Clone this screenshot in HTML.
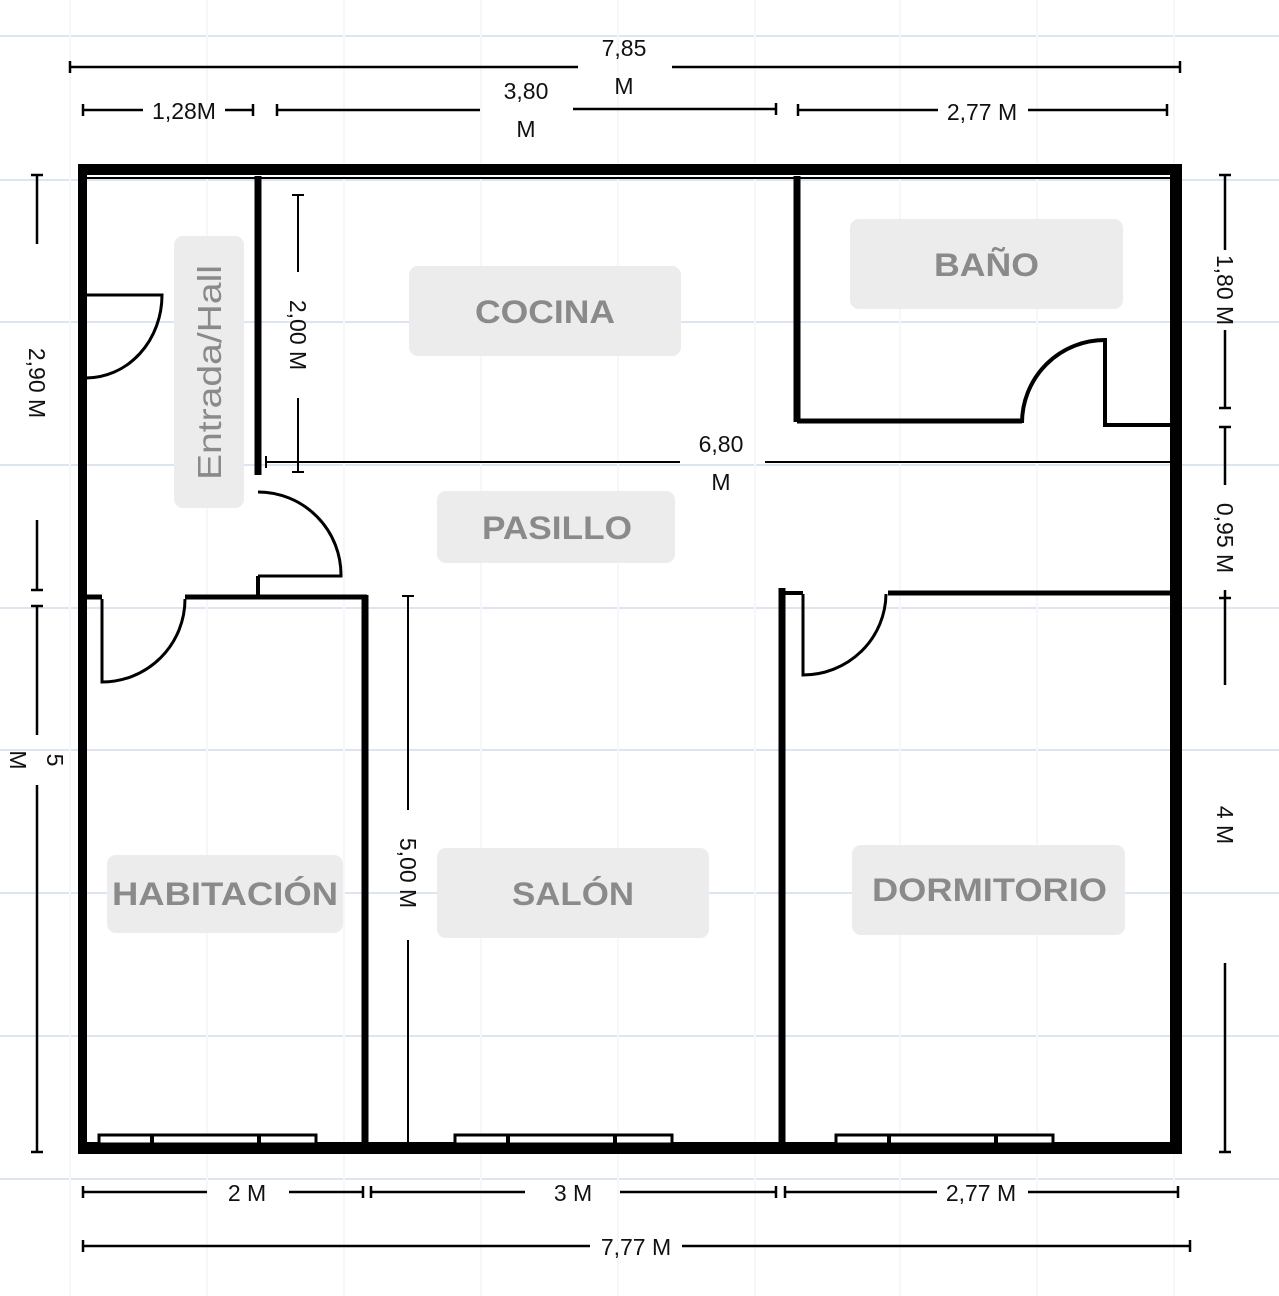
<!DOCTYPE html>
<html><head><meta charset="utf-8"><style>
html,body{margin:0;padding:0;background:#fff;}
svg{display:block;}
.d{font-family:"Liberation Sans",sans-serif;font-size:23px;fill:#111;}
.lb{font-family:"Liberation Sans",sans-serif;font-size:32px;font-weight:bold;fill:#8a8a8a;}
</style></head><body>
<svg width="1279" height="1296" viewBox="0 0 1279 1296" xmlns="http://www.w3.org/2000/svg">
<g stroke="#dde6f0" stroke-width="2">
<line x1="0" y1="36" x2="1279" y2="36"/><line x1="0" y1="180" x2="1279" y2="180"/>
<line x1="0" y1="322" x2="1279" y2="322"/><line x1="0" y1="465" x2="1279" y2="465"/>
<line x1="0" y1="608" x2="1279" y2="608"/><line x1="0" y1="750" x2="1279" y2="750"/>
<line x1="0" y1="893" x2="1279" y2="893"/><line x1="0" y1="1036" x2="1279" y2="1036"/>
<line x1="0" y1="1179" x2="1279" y2="1179"/>
</g>
<g stroke="#f5f7fb" stroke-width="2">
<line x1="70" y1="0" x2="70" y2="1296"/><line x1="207" y1="0" x2="207" y2="1296"/>
<line x1="344" y1="0" x2="344" y2="1296"/><line x1="481" y1="0" x2="481" y2="1296"/>
<line x1="618" y1="0" x2="618" y2="1296"/><line x1="755" y1="0" x2="755" y2="1296"/>
<line x1="900" y1="0" x2="900" y2="1296"/><line x1="1037" y1="0" x2="1037" y2="1296"/>
<line x1="1174" y1="0" x2="1174" y2="1296"/>
</g>
<g fill="#ececec">
<rect x="409" y="266" width="272" height="90" rx="9"/>
<rect x="850" y="219" width="273" height="90" rx="9"/>
<rect x="437" y="491" width="238" height="72" rx="9"/>
<rect x="107" y="855" width="236" height="78" rx="9"/>
<rect x="437" y="848" width="272" height="90" rx="9"/>
<rect x="852" y="845" width="273" height="90" rx="9"/>
<rect x="174" y="236" width="70" height="272" rx="9"/>
</g>
<g fill="#000">
<rect x="78" y="164" width="1104" height="11"/>
<rect x="1170" y="164" width="12" height="990"/>
<rect x="78" y="1142" width="1104" height="12"/>
<rect x="78" y="164" width="9" height="990"/>
</g>
<g stroke="#000" fill="none">
<line x1="87" y1="178" x2="1170" y2="178" stroke-width="2"/>
<line x1="258" y1="176" x2="258" y2="475" stroke-width="7"/>
<line x1="258" y1="576" x2="258" y2="596" stroke-width="4"/>
<path d="M86 295 H162 A76 83 0 0 1 86 378" stroke-width="3"/>
<path d="M258 492 A83 83 0 0 1 341 576 H258" stroke-width="3"/>
<line x1="86" y1="597" x2="102" y2="597" stroke-width="5"/>
<line x1="185" y1="597" x2="367" y2="597" stroke-width="5"/>
<line x1="365" y1="595" x2="365" y2="1145" stroke-width="7"/>
<path d="M102 599 V682 A83 83 0 0 0 185 599" stroke-width="3"/>
<line x1="408" y1="596" x2="408" y2="810" stroke-width="2"/>
<line x1="408" y1="940" x2="408" y2="1143" stroke-width="2"/>
<line x1="402" y1="596" x2="414" y2="596" stroke-width="2"/>
<line x1="782" y1="588" x2="782" y2="1145" stroke-width="7"/>
<line x1="782" y1="593" x2="803" y2="593" stroke-width="4"/>
<line x1="888" y1="593" x2="1170" y2="593" stroke-width="5"/>
<path d="M803 594 V675 A83 82 0 0 0 886 594" stroke-width="3"/>
<line x1="797" y1="176" x2="797" y2="422" stroke-width="7"/>
<line x1="797" y1="421" x2="1022" y2="421" stroke-width="5"/>
<path d="M1022 423 A83 83 0 0 1 1105 340 V425 H1170" stroke-width="4"/>
<line x1="265" y1="462" x2="680" y2="462" stroke-width="2"/>
<line x1="765" y1="462" x2="1170" y2="462" stroke-width="2"/>
<line x1="266" y1="456" x2="266" y2="468" stroke-width="2"/>
<line x1="298" y1="195" x2="298" y2="272" stroke-width="2"/>
<line x1="298" y1="398" x2="298" y2="472" stroke-width="2"/>
<line x1="292" y1="195" x2="304" y2="195" stroke-width="2"/>
<line x1="292" y1="472" x2="304" y2="472" stroke-width="2"/>
</g>
<g fill="#fff" stroke="#000" stroke-width="3">
<rect x="99" y="1135" width="217" height="9"/>
<rect x="455" y="1135" width="217" height="9"/>
<rect x="836" y="1135" width="217" height="9"/>
</g>
<g fill="#000">
<rect x="97" y="1144" width="220" height="10"/><rect x="453" y="1144" width="220" height="10"/><rect x="834" y="1144" width="220" height="10"/>
<rect x="150" y="1135" width="4" height="9"/><rect x="257" y="1135" width="4" height="9"/>
<rect x="506" y="1135" width="4" height="9"/><rect x="613" y="1135" width="4" height="9"/>
<rect x="887" y="1135" width="4" height="9"/><rect x="994" y="1135" width="4" height="9"/>
</g>
<g stroke="#000" stroke-width="2.5" fill="none">
<path d="M70 67 H578 M672 67 H1180 M70 61 V73 M1180 61 V73"/>
<path d="M83 110 H143 M225 110 H253 M83 104 V116 M253 104 V116"/>
<path d="M277 110 H480 M573 109 H776 M277 104 V116 M776 103 V115"/>
<path d="M798 110 H938 M1028 110 H1167 M798 104 V116 M1167 104 V116"/>
<path d="M83 1192 H207 M289 1192 H363 M83 1186 V1198 M363 1186 V1198"/>
<path d="M371 1192 H525 M620 1192 H776 M371 1186 V1198 M776 1186 V1198"/>
<path d="M785 1192 H937 M1028 1192 H1178 M785 1186 V1198 M1178 1186 V1198"/>
<path d="M83 1246 H590 M682 1246 H1190 M83 1240 V1252 M1190 1240 V1252"/>
<path d="M1225 175 V250 M1225 330 V408 M1219 175 H1231 M1219 408 H1231"/>
<path d="M1225 427 V485 M1225 590 V685 M1219 427 H1231 M1219 598 H1231"/>
<path d="M1225 963 V1152 M1219 1152 H1231"/>
<path d="M37 175 V244 M37 520 V590 M31 175 H43 M31 590 H43"/>
<path d="M37 606 V735 M37 785 V1152 M31 606 H43 M31 1152 H43"/>
</g>
<g class="d" text-anchor="middle">
<text x="624" y="56">7,85</text><text x="624" y="94">M</text>
<text x="184" y="119">1,28M</text>
<text x="526" y="99">3,80</text><text x="526" y="137">M</text>
<text x="982" y="120">2,77 M</text>
<text x="721" y="452">6,80</text><text x="721" y="490">M</text>
<text x="247" y="1201">2 M</text>
<text x="573" y="1201">3 M</text>
<text x="981" y="1201">2,77 M</text>
<text x="636" y="1255">7,77 M</text>
<text transform="translate(1217,290) rotate(90)">1,80 M</text>
<text transform="translate(1217,538) rotate(90)">0,95 M</text>
<text transform="translate(1217,825) rotate(90)">4 M</text>
<text transform="translate(29,383) rotate(90)">2,90 M</text>
<text transform="translate(47,760) rotate(90)">5</text>
<text transform="translate(10,760) rotate(90)">M</text>
<text transform="translate(290,335) rotate(90)">2,00 M</text>
<text transform="translate(400,873) rotate(90)">5,00 M</text>
</g>
<g class="lb">
<text x="475" y="323" textLength="140" lengthAdjust="spacingAndGlyphs">COCINA</text>
<text x="934" y="276" textLength="105" lengthAdjust="spacingAndGlyphs">BAÑO</text>
<text x="482" y="539" textLength="150" lengthAdjust="spacingAndGlyphs">PASILLO</text>
<text x="112" y="905" textLength="226" lengthAdjust="spacingAndGlyphs">HABITACIÓN</text>
<text x="512" y="905" textLength="122" lengthAdjust="spacingAndGlyphs">SALÓN</text>
<text x="872" y="901" textLength="235" lengthAdjust="spacingAndGlyphs">DORMITORIO</text>
<text transform="translate(221,480) rotate(-90)" style="font-weight:normal;font-size:33px" textLength="215" lengthAdjust="spacingAndGlyphs">Entrada/Hall</text>
</g>
</svg>
</body></html>
